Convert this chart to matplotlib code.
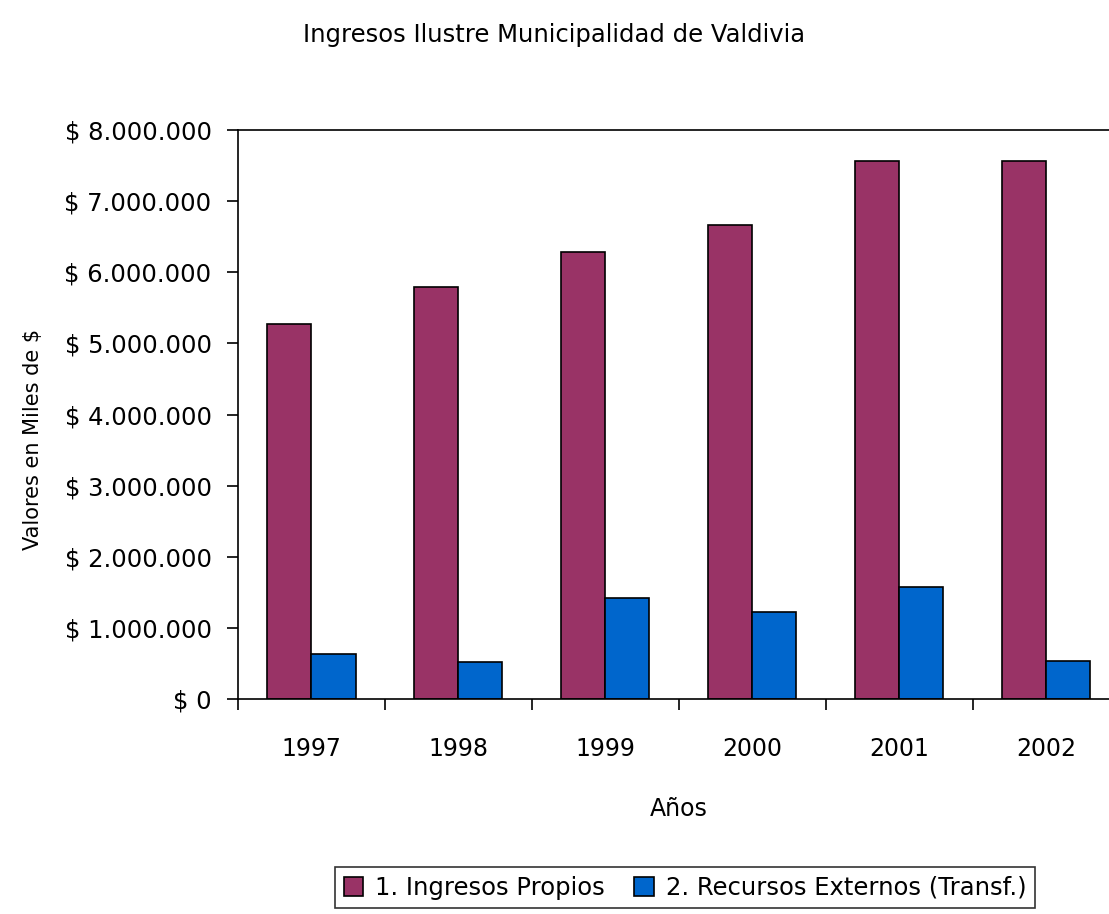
import matplotlib.pyplot as plt

# ── Data ───────────────────────────────────────────────────────────────────
years = ["1997", "1998", "1999", "2000", "2001", "2002"]
ingresos_propios = [5270000, 5800000, 6290000, 6660000, 7570000, 7570000]
recursos_externos = [630000, 520000, 1420000, 1230000, 1570000, 530000]
y_ticks = [0, 1000000, 2000000, 3000000, 4000000, 5000000, 6000000, 7000000, 8000000]
y_tick_labels = ["$ 0", "$ 1.000.000", "$ 2.000.000", "$ 3.000.000", "$ 4.000.000",
                 "$ 5.000.000", "$ 6.000.000", "$ 7.000.000", "$ 8.000.000"]

plt.rcParams["font.family"] = "DejaVu Sans"

# ── Figure ─────────────────────────────────────────────────────────────────
fig = plt.figure(figsize=(11.09, 9.14), dpi=100)
ax = fig.add_axes([0.2146, 0.2352, 0.795, 0.6225])

x = list(range(len(years)))
w = 0.30
ax.bar([i - w / 2 for i in x], ingresos_propios, width=w, color="#993366",
       edgecolor="black", linewidth=1.2, label="1. Ingresos Propios")
ax.bar([i + w / 2 for i in x], recursos_externos, width=w, color="#0066CC",
       edgecolor="black", linewidth=1.2, label="2. Recursos Externos (Transf.)")

ax.set_xlim(-0.5, len(years) - 0.5)
ax.set_ylim(0, 8000000)
ax.set_yticks(y_ticks)
ax.set_yticklabels(y_tick_labels, fontsize=17.5)
ax.tick_params(axis="y", direction="out", length=8, width=1.2, pad=11)

# category boundaries as ticks, year labels in between
ax.set_xticks([i - 0.5 for i in range(len(years) + 1)])
ax.set_xticklabels([])
ax.tick_params(axis="x", which="major", direction="out", length=8, width=1.2)
ax.set_xticks(x, minor=True)
ax.set_xticklabels(years, minor=True, fontsize=17)
ax.tick_params(axis="x", which="minor", length=0, pad=27)

for s in ax.spines.values():
    s.set_linewidth(1.2)

ax.set_xlabel("Años", fontsize=17, labelpad=26)
ax.set_ylabel("Valores en Miles de $", fontsize=15)
ax.yaxis.set_label_coords(-0.221, 0.457)

fig.text(0.5, 1 - 35 / 914, "Ingresos Ilustre Municipalidad de Valdivia",
         ha="center", va="center", fontsize=17.5)

leg = fig.legend(loc="upper center", bbox_to_anchor=(685 / 1109, 1 - 855 / 914),
                 ncol=2, fontsize=17.5, frameon=True, fancybox=False,
                 handlelength=0.8, handleheight=0.8, handletextpad=0.5,
                 columnspacing=1.2, borderpad=0.35)
leg.get_frame().set_edgecolor("black")
leg.get_frame().set_linewidth(1.2)

plt.savefig("out.png", dpi=100)
